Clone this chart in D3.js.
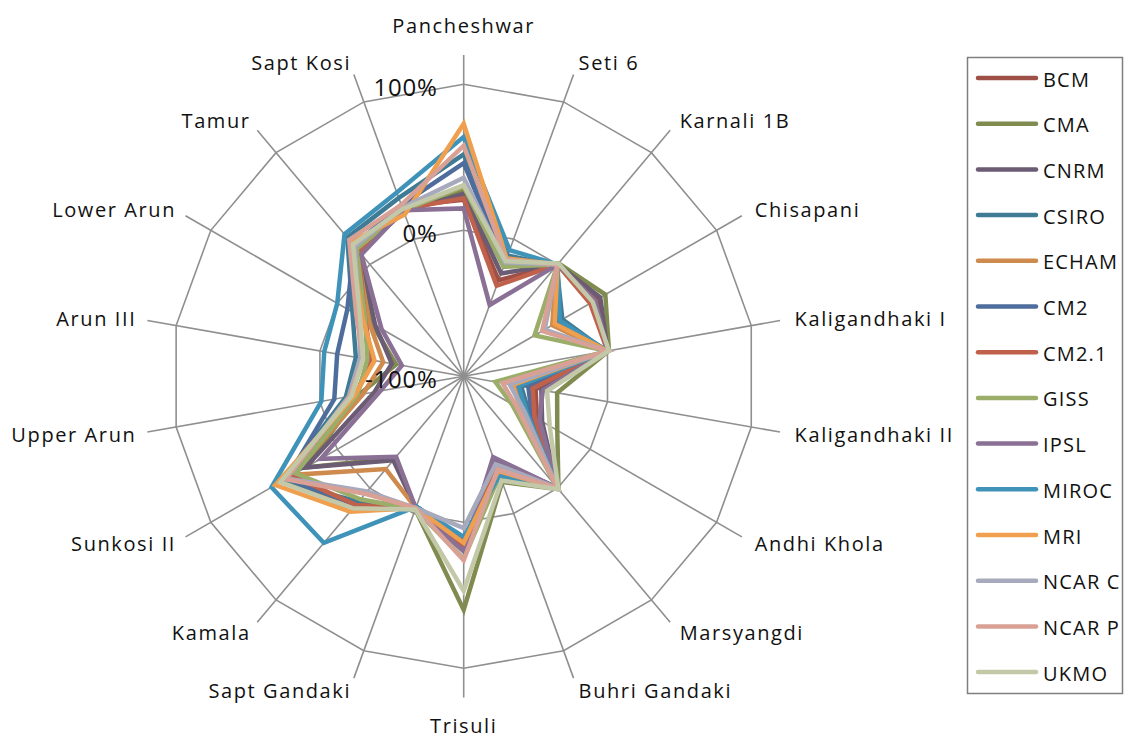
<!DOCTYPE html>
<html>
<head>
<meta charset="utf-8">
<script src="https://cdn.jsdelivr.net/npm/d3@7"></script>
<style>
  body { margin: 0; background: #fff; }
  text { font-family: "Open Sans", sans-serif; fill: #111; }
</style>
</head>
<body>
<script>
const categories = ["Pancheshwar", "Seti 6", "Karnali 1B", "Chisapani", "Kaligandhaki I",
  "Kaligandhaki II", "Andhi Khola", "Marsyangdi", "Buhri Gandaki", "Trisuli", "Sapt Gandaki",
  "Kamala", "Sunkosi II", "Upper Arun", "Arun III", "Lower Arun", "Tamur", "Sapt Kosi"]

const models = ["BCM", "CMA", "CNRM", "CSIRO", "ECHAM", "CM2", "CM2.1", "GISS",
  "IPSL", "MIROC", "MRI", "NCAR C", "NCAR P", "UKMO"]

const colors = ["#9e5047", "#7f8b4f", "#6b5b73", "#3f7b94", "#cf8a4e", "#4e6d9c", "#c0614b",
  "#9aae6a", "#8a7095", "#3f93b9", "#ef9f4d", "#a7a9bc", "#d9a195", "#c3c8a8"]

// % change per project, same order as categories
const bcm   = [21, -30, 0, 5, 0, -50, -42, 0, -37, 18, -4, 20, 38, -25, -35, -22, 12, 24]
const cma   = [28, -20, 1, 12, 1, -35, -26, 1, -23, 60, -3, -27, 25, -27, -53, -27, 13, 20]
const cnrm  = [25, -25, 0, 8, 0, -46, -38, 0, -40, 19, -4, -25, 25, -38, -50, -30, 11, 20]
const csiro = [52, -12, -1, -22, -1, -60, -48, -1, -27, 12, -5, 12, 44, -18, -25, -12, 24, 30]
const echam = [30, -18, -1, -30, -1, -63, -53, -1, -32, 16, -4, -17, 35, -30, -44, -25, 14, 21]
const cm2   = [46, -17, 0, -25, 0, -55, -46, 0, -33, 12, -5, 15, 40, -10, -12, -8, 17, 25]
const cm21  = [22, -34, 0, 0, 0, -52, -44, 0, -34, 17, -4, 15, 36, -25, -36, -22, 12, 22]
const giss  = [30, -20, 0, -44, 0, -78, -62, 0, -28, 25, -3, 10, 33, -26, -33, -22, 14, 21]
const ipsl  = [15, -48, 0, 4, 0, -45, -40, 0, -41, 20, -4, -28, 13, -42, -57, -35, 9, 21]
const miroc = [64, -8, 0, -24, 0, -62, -50, 0, -28, 10, -5, 49, 52, -1, -3, 0, 27, 34]
const mri   = [73, -14, 0, -28, 0, -66, -55, 0, -31, 14, -4, 21, 49, -24, -38, -20, 20, 18]
const ncarc = [36, -17, 0, -36, 0, -68, -52, 0, -36, 4, -4, 3, 40, -20, -28, -17, 16, 23]
const ncarp = [58, -15, 0, -38, 0, -73, -58, 0, -32, 26, -4, 5, 41, -21, -30, -15, 22, 25]
const ukmo  = [31, -16, 1, 2, 1, -42, -32, 1, -24, 47, -3, 18, 45, -22, -30, -18, 18, 22]

const seriesValues = [bcm, cma, cnrm, csiro, echam, cm2, cm21, giss, ipsl, miroc, mri, ncarc, ncarp, ukmo]
const ringTicks = [-100, 0, 100]

const w = 1125
const h = 738
const cx = 463.7
const cy = 376.3

let svg = d3.select("body").append("svg")
    .attr("width", w)
    .attr("height", h)

let r = d3.scaleLinear().domain([-100, 100]).range([0, 292])
let angle = d3.scalePoint().domain(categories).range([0, 2 * Math.PI * (1 - 1 / categories.length)])

let chart = svg.append("g").attr("transform", "translate(" + cx + "," + cy + ")")

// spokes
chart.selectAll("line.spoke")
    .data(categories)
    .enter()
    .append("line")
    .attr("class", "spoke")
    .attr("x1", 0).attr("y1", 0)
    .attr("x2", function(d) {return r(120) * Math.sin(angle(d))})
    .attr("y2", function(d) {return -r(120) * Math.cos(angle(d))})
    .attr("stroke", "#8f8f8f")
    .attr("stroke-width", 1.6)

// rings
let ringLine = d3.lineRadial()
    .angle(function(d) {return angle(d.c)})
    .radius(function(d) {return r(d.v)})
    .curve(d3.curveLinearClosed)

chart.selectAll("path.ring")
    .data(ringTicks.filter(function(t) {return t > -100}))
    .enter()
    .append("path")
    .attr("class", "ring")
    .attr("d", function(t) {return ringLine(categories.map(function(c) {return {c: c, v: t}}))})
    .attr("fill", "none")
    .attr("stroke", "#8f8f8f")
    .attr("stroke-width", 1.6)

// series
let seriesLine = d3.lineRadial()
    .angle(function(d, i) {return angle(categories[i])})
    .radius(function(d) {return r(d)})
    .curve(d3.curveLinearClosed)

chart.selectAll("path.series")
    .data(seriesValues)
    .enter()
    .append("path")
    .attr("class", "series")
    .attr("d", function(d) {return seriesLine(d)})
    .attr("fill", "none")
    .attr("stroke", function(d, i) {return colors[i]})
    .attr("stroke-width", 4.5)
    .attr("stroke-linejoin", "miter")

// radial tick labels
chart.selectAll("text.tick")
    .data(ringTicks)
    .enter()
    .append("text")
    .attr("class", "tick")
    .attr("x", -26)
    .attr("y", function(t) {return -r(t) + 2})
    .attr("dominant-baseline", "central")
    .attr("text-anchor", "end")
    .style("font-size", "24px")
    .style("letter-spacing", "0.8px")
    .text(function(t) {return t + "%"})

// category labels
chart.selectAll("text.cat")
    .data(categories)
    .enter()
    .append("text")
    .attr("class", "cat")
    .attr("x", function(d) {
        let s = Math.sin(angle(d))
        if (Math.abs(s) < 0.01) return 0
        return s > 0 ? 336 * s : 334 * s + 1.6
    })
    .attr("y", function(d) {
        let a = angle(d)
        let s = Math.sin(a)
        if (Math.abs(s) < 0.01) return -340 * Math.cos(a) + (Math.cos(a) > 0 ? -11 : 9)
        return -340 * Math.cos(a) + 6 * Math.cos(a)
    })
    .attr("dominant-baseline", "central")
    .attr("text-anchor", function(d) {
        let s = Math.sin(angle(d))
        return Math.abs(s) < 0.01 ? "middle" : (s > 0 ? "start" : "end")
    })
    .style("font-size", "20px")
    .style("letter-spacing", "1.6px")
    .text(function(d) {return d})

// legend
let legend = svg.append("g")

legend.append("rect")
    .attr("x", 967.5).attr("y", 57.5)
    .attr("width", 155).attr("height", 636)
    .attr("fill", "none")
    .attr("stroke", "#7f7f7f")
    .attr("stroke-width", 1.5)

let item = legend.selectAll("g.item")
    .data(models)
    .enter()
    .append("g")
    .attr("class", "item")
    .attr("transform", function(d, i) {return "translate(0," + (78 + i * 45.7) + ")"})

item.append("line")
    .attr("x1", 978).attr("x2", 1036)
    .attr("y1", 0).attr("y2", 0)
    .attr("stroke", function(d, i) {return colors[i]})
    .attr("stroke-width", 4.5)
    .attr("stroke-linecap", "round")

item.append("text")
    .attr("x", 1043)
    .attr("y", 1)
    .attr("dominant-baseline", "central")
    .style("font-size", "20px")
    .style("letter-spacing", "1.2px")
    .text(function(d) {return d})
</script>
</body>
</html>
